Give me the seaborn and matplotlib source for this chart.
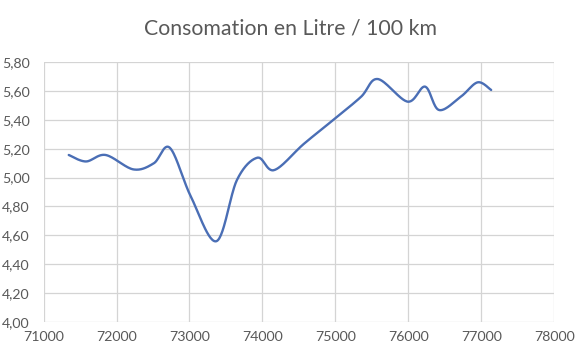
import numpy as np
import pandas as pd
import matplotlib
matplotlib.use("Agg")
import matplotlib.pyplot as plt
import seaborn as sns

# ------------------------------------------------------------------
# data (km, litres / 100 km)
# ------------------------------------------------------------------
km = [71345, 71580, 71850, 72230, 72510, 72730, 73020, 73370, 73650,
      73930, 74160, 74565, 74970, 75350, 75580, 75990, 76230, 76420,
      76720, 76950, 77135]
conso = [5.157, 5.112, 5.157, 5.057, 5.099, 5.207, 4.867, 4.559, 4.983,
         5.138, 5.052, 5.233, 5.400, 5.560, 5.684, 5.527, 5.631, 5.469,
         5.562, 5.661, 5.608]

x_ticks = list(range(71000, 78001, 1000))
y_ticks = [4.0, 4.2, 4.4, 4.6, 4.8, 5.0, 5.2, 5.4, 5.6, 5.8]


def smooth(xs, ys, n=30):
    # excel-like "smoothed line": cubic bezier through each point
    p = np.column_stack([xs, ys]).astype(float)
    p = np.vstack([p[0], p, p[-1]])
    out = []
    t = np.linspace(0, 1, n)[:, None]
    for i in range(1, len(p) - 2):
        p0, p1, p2, p3 = p[i - 1], p[i], p[i + 1], p[i + 2]
        c1 = p1 + (p2 - p0) / 6
        c2 = p2 - (p3 - p1) / 6
        seg = ((1 - t) ** 3 * p1 + 3 * (1 - t) ** 2 * t * c1
               + 3 * (1 - t) * t ** 2 * c2 + t ** 3 * p2)
        out.append(seg if i == 1 else seg[1:])
    return np.vstack(out)


curve = smooth(km, conso)
df = pd.DataFrame({"km": curve[:, 0], "conso": curve[:, 1]})

sns.set_style("white")
plt.rcParams["font.family"] = ["Lato", "DejaVu Sans"]

fig = plt.figure(figsize=(5.81, 3.52), dpi=100)
ax = fig.add_axes([0.075, 0.086, 0.879, 0.737])

sns.lineplot(data=df, x="km", y="conso", sort=False, color="#4A6EB5",
             linewidth=1.7, ax=ax)

ax.set_xlim(71000, 78000)
ax.set_ylim(4.0, 5.8)
ax.set_xticks(x_ticks)
ax.set_yticks(y_ticks)
ax.set_xticklabels([str(v) for v in x_ticks])
ax.set_yticklabels([f"{v:.2f}".replace(".", ",") for v in y_ticks])
ax.grid(True, color="#d4d4d4", linewidth=0.9)
ax.set_axisbelow(True)
for s in ax.spines.values():
    s.set_visible(False)
ax.tick_params(axis="both", length=0, labelsize=10.2, colors="#595959")
ax.tick_params(axis="y", pad=10)
ax.tick_params(axis="x", pad=7)
ax.set_xlabel("")
ax.set_ylabel("")

fig.text(0.5, 0.92, "Consomation en Litre / 100 km", ha="center",
         va="center", fontsize=15.3, color="#595959")

fig.savefig("out.png", dpi=100)
